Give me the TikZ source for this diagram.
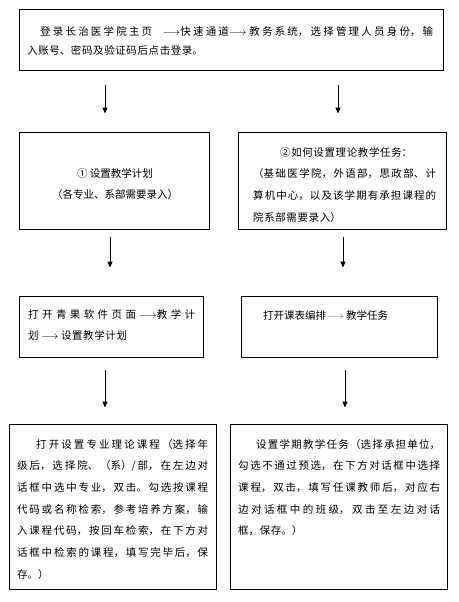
\documentclass[tikz,border=0pt]{standalone}
\usepackage{fontspec}
\setmainfont{Noto Sans CJK SC}
\usetikzlibrary{arrows.meta}
\XeTeXlinebreaklocale "zh"
\XeTeXlinebreakskip=0.6pt plus 4pt

\tikzset{
  stepbox/.style={draw, line width=0.9pt, inner sep=0pt},
  steptext/.style={anchor=north west, inner sep=0pt, align=justify, font=\fontsize{10.5}{21.7}\selectfont},
  flow/.style={line width=0.9pt, -{Triangle[width=5pt,length=6pt]}}
}

\begin{document}
\begin{tikzpicture}[x=1pt, y=-1pt]
    \useasboundingbox (0,0) rectangle (458,602);

    % Boxes
    \node[stepbox, minimum width=424pt, minimum height=61pt] (login) at (231,39.5) {};
    \node[stepbox, minimum width=190pt, minimum height=97pt] (plan) at (114,180.5) {};
    \node[stepbox, minimum width=208pt, minimum height=97pt] (task) at (342,180.5) {};
    \node[stepbox, minimum width=184pt, minimum height=61pt] (planopen) at (111,326.5) {};
    \node[stepbox, minimum width=196pt, minimum height=61pt] (taskopen) at (339,326.5) {};
    \node[stepbox, minimum width=207pt, minimum height=165pt] (course) at (112.5,506.5) {};
    \node[stepbox, minimum width=217pt, minimum height=165pt] (termtask) at (338.5,506.5) {};

    % Texts
    \node[steptext, text width=406pt, font=\fontsize{10.5}{19}\selectfont] (logintext) at (27,26)
        {\hspace*{13pt}登录长治医学院主页\quad$\longrightarrow$快速通道$\longrightarrow$ 教务系统，选择管理人员身份，输\linebreak 入账号、密码及验证码后点击登录。};
    \node[steptext, align=center, anchor=center] (plantext) at (115,184)
        {① 设置教学计划\\（各专业、系部需要录入）};
    \node[steptext, text width=183pt] (tasktext) at (253,147)
        {\hspace*{27pt}②如何设置理论教学任务：\\（基础医学院，外语部，思政部、计\linebreak 算机中心，以及该学期有承担课程的\linebreak 院系部需要录入）};
    \node[steptext, text width=167pt] (planopentext) at (28,309)
        {打开青果软件页面 $\longrightarrow$教学计\linebreak 划 $\longrightarrow$ 设置教学计划};
    \node[steptext, align=left] (taskopentext) at (263,310)
        {打开课表编排{\color{black!55}$\longrightarrow$} 教学任务};
    \node[steptext, text width=191pt] (coursetext) at (17,439)
        {\hspace*{19pt}打开设置专业理论课程（选择年\linebreak 级后，选择院、（系）/部，在左边对\linebreak 话框中选中专业，双击。勾选按课程\linebreak 代码或名称检索，参考培养方案，输\linebreak 入课程代码，按回车检索，在下方对\linebreak 话框中检索的课程，填写完毕后，保\linebreak 存。）};
    \node[steptext, text width=202pt] (termtasktext) at (238,439)
        {\hspace*{18pt}设置学期教学任务（选择承担单位，\linebreak 勾选不通过预选，在下方对话框中选择\linebreak 课程，双击，填写任课教师后，对应右\linebreak 边对话框中的班级，双击至左边对话\linebreak 框，保存。）};

    % Arrows
    \draw[flow, shorten <=15pt, shorten >=18pt] ([xshift=-126pt]login.south) -- ([xshift=-9pt]plan.north);
    \draw[flow, shorten <=15pt, shorten >=18pt] ([xshift=107pt]login.south) -- ([xshift=-4pt]task.north);
    \draw[flow, shorten <=8pt, shorten >=28pt] ([xshift=-4pt]plan.south) -- ([xshift=-1pt]planopen.north);
    \draw[flow, shorten <=8pt, shorten >=28pt] ([xshift=1pt]task.south) -- ([xshift=4pt]taskopen.north);
    \draw[flow, shorten <=13pt, shorten >=16pt] ([xshift=-6pt]planopen.south) -- ([xshift=-7.5pt]course.north);
    \draw[flow, shorten <=13pt, shorten >=16pt] ([xshift=6pt]taskopen.south) -- ([xshift=6.5pt]termtask.north);
\end{tikzpicture}
\end{document}
